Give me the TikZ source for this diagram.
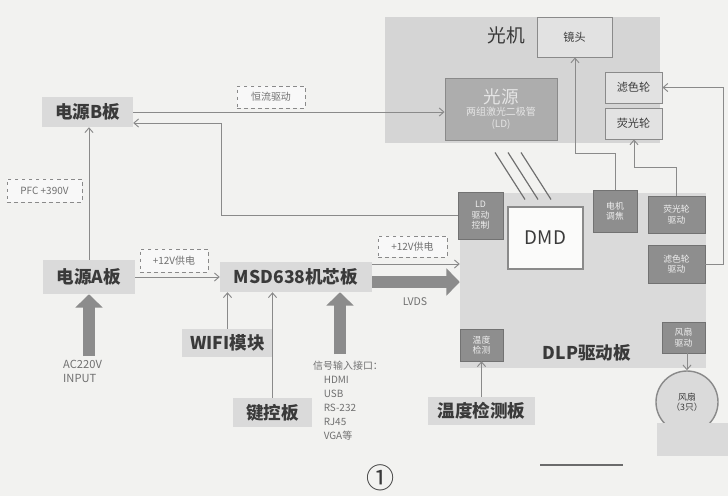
\documentclass[tikz,border=0pt]{standalone}
\usepackage{fontspec}
\setmainfont{Noto Sans CJK SC}
\usetikzlibrary{arrows.meta, calc}
\definecolor{paper}{HTML}{F2F2F0}
\definecolor{ink}{HTML}{3A3A3A}
\definecolor{boardgray}{HTML}{DADADA}
\definecolor{panelgray}{HTML}{D5D5D5}
\definecolor{partgray}{HTML}{E2E2E2}
\definecolor{drvgray}{HTML}{8E8E8E}
\definecolor{srcgray}{HTML}{ADADAD}
\definecolor{linegray}{HTML}{8A8A8A}
\definecolor{fatgray}{HTML}{8C8C8C}
\definecolor{taggray}{HTML}{707070}

\begin{document}
\begin{tikzpicture}[x=0.03cm, y=-0.03cm,
        panel/.style={rectangle, fill=panelgray, inner sep=0pt},
        board/.style={rectangle, fill=boardgray, text=ink, inner sep=0pt, font=\fontsize{15}{17}\selectfont\bfseries},
        part/.style={rectangle, draw=linegray, line width=0.8pt, fill=partgray, text=ink, inner sep=0pt, font=\fontsize{9.5}{11}\selectfont},
        drv/.style={rectangle, draw=drvgray!80!black, fill=drvgray, text=white!88!gray, inner sep=0pt, align=center, font=\fontsize{7.5}{9}\selectfont},
        tag/.style={rectangle, draw=linegray, dashed, fill=white!50!paper, text=taggray, inner sep=0pt, font=\fontsize{8.5}{10}\selectfont},
        note/.style={text=taggray, inner sep=0pt, align=left, font=\fontsize{8.5}{12}\selectfont},
        link/.style={draw=linegray, line width=0.8pt, -{Straight Barb[length=4pt, width=7pt]}},
        fat/.style={draw=fatgray, line width=0.36cm, -{Triangle[length=0.4cm, width=0.8cm]}},
        beam/.style={draw=linegray!80!black, line width=1pt}
    ]
        \fill[paper] (0,0) rectangle (728,496);
        \useasboundingbox (0,0) rectangle (728,496);

        % Optical engine
        \node[panel, minimum width=8.25cm, minimum height=3.78cm] (optic) at (522.5,80) {};
        \node[text=ink, font=\fontsize{16}{18}\selectfont] (opticlabel) at (506,35) {光机};
        \node[part, minimum width=2.25cm, minimum height=1.2cm] (lens) at (574.5,37) {镜头};
        \node[part, minimum width=1.71cm, minimum height=0.93cm] (filter) at (633.5,87.5) {滤色轮};
        \node[part, minimum width=1.71cm, minimum height=0.93cm] (phosphor) at (633.5,123.5) {荧光轮};
        \node[rectangle, draw=linegray, line width=0.8pt, fill=srcgray, text=white!80!gray, inner sep=0pt, align=center,
              minimum width=3.36cm, minimum height=1.86cm, font=\fontsize{8.5}{10}\selectfont] (source) at (501,109)
              {{\fontsize{15}{17}\selectfont 光源}\\两组激光二极管\\(LD)};

        % DLP board
        \node[panel, fill=boardgray, minimum width=7.38cm, minimum height=5.25cm] (dlp) at (583,280.5) {};
        \node[text=ink, font=\fontsize{15}{17}\selectfont\bfseries] (dlplabel) at (587,353) {DLP驱动板};
        \node[drv, minimum width=1.35cm, minimum height=1.41cm] (ldctl) at (480.5,215.5) {LD\\驱动\\控制};
        \node[rectangle, draw=linegray, line width=1.2pt, fill=white!70!paper, text=ink, inner sep=0pt,
              minimum width=2.25cm, minimum height=1.86cm, font=\fontsize{16}{18}\selectfont] (dmd) at (545.5,238) {DMD};
        \node[drv, minimum width=1.32cm, minimum height=1.26cm] (motor) at (615,211) {电机\\调焦};
        \node[drv, minimum width=1.71cm, minimum height=1.11cm] (phdrv) at (676.5,214.5) {荧光轮\\驱动};
        \node[drv, minimum width=1.71cm, minimum height=1.14cm] (fldrv) at (676.5,264) {滤色轮\\驱动};
        \node[drv, minimum width=1.29cm, minimum height=0.93cm] (fandrv) at (683.5,337.5) {风扇\\驱动};
        \node[drv, minimum width=1.29cm, minimum height=0.96cm] (tempdet) at (481.5,345) {温度\\检测};

        % Beams
        \foreach \d in {0,13,26}
            \draw[beam] ($(source.south)+(-6+\d,12)$) -- ++(30,47);

        % Boards
        \node[board, minimum width=2.73cm, minimum height=0.9cm] (pwrB) at (87.5,112) {电源B板};
        \node[board, minimum width=2.76cm, minimum height=1.02cm] (pwrA) at (89,277) {电源A板};
        \node[board, minimum width=4.56cm, minimum height=0.9cm] (msd) at (296,277) {MSD638机芯板};
        \node[board, minimum width=2.73cm, minimum height=0.84cm] (wifi) at (227.5,343) {WIFI模块};
        \node[board, minimum width=2.37cm, minimum height=0.87cm] (keypad) at (272.5,412.5) {键控板};
        \node[board, minimum width=3.21cm, minimum height=0.84cm] (tempboard) at (481.5,411) {温度检测板};

        % Tags
        \node[tag, minimum width=2.04cm, minimum height=0.66cm] (hengliu) at (271,97) {恒流驱动};
        \node[tag, minimum width=2.25cm, minimum height=0.69cm] (pfc) at (44.5,190.5) {PFC +390V};
        \node[tag, minimum width=2.04cm, minimum height=0.69cm] (v12a) at (174,260.5) {+12V供电};
        \node[tag, minimum width=2.07cm, minimum height=0.63cm] (v12b) at (412.5,246.5) {+12V供电};
        \node[note, font=\fontsize{9}{11}\selectfont] (lvds) at (415,302) {LVDS};
        \node[note, anchor=north west, font=\fontsize{9.5}{11.5}\selectfont] (acnote) at (63,360) {AC220V\\INPUT};
        \node[note, anchor=north west] (signote) at (313,361) {信号输入接口：\\\hspace*{9pt}HDMI\\\hspace*{9pt}USB\\\hspace*{9pt}RS-232\\\hspace*{9pt}RJ45\\\hspace*{9pt}VGA等};

        % Fan
        \node[circle, draw=linegray, line width=1.2pt, fill=boardgray, text=ink, inner sep=0pt, align=center,
              minimum size=1.86cm, font=\fontsize{7.5}{9}\selectfont] (fan) at (687,402) {风扇\\（3只）};
        \fill[boardgray] (657,423) rectangle (728,456);

        % Connections
        \draw[link] (pwrB.east) -- (pwrB.east -| source.west);
        \coordinate (ldret) at (221,123);
        \draw[link] (ldctl.west) -| (ldret) -- (ldret -| pwrB.east);
        \draw[link] (pwrA.north) -- (pwrA.north |- pwrB.south);
        \draw[link] (pwrA.east) -- (msd.west);
        \coordinate (msdhi) at ($(msd.east)+(0,-13)$);
        \draw[link] (msdhi) -- (msdhi -| dlp.west);
        \coordinate (msdlo) at ($(msd.east)+(0,5)$);
        \draw[fat] (msdlo) -- (msdlo -| dlp.west);
        \coordinate (acin) at (89,356);
        \draw[fat] (acin) -- (pwrA.south);
        \coordinate (sigin) at (340,354);
        \draw[fat] (sigin) -- (sigin |- msd.south);
        \draw[link] (wifi.north) -- (wifi.north |- msd.south);
        \draw[link] (keypad.north) -- (keypad.north |- msd.south);
        \draw[link] (tempboard.north) -- (tempdet.south);
        \draw[link] (fan.north |- fandrv.south) -- (fan.north);
        \coordinate (lensbend) at (575,153);
        \draw[link] (motor.north) |- (lensbend) -- (lensbend |- lens.south);
        \coordinate (phbend) at (634,167);
        \draw[link] (phdrv.north) |- (phbend) -- (phbend |- phosphor.south);
        \coordinate (flbend) at (723,87.5);
        \draw[link] (fldrv.east) -| (flbend) -- (filter.east);

        \draw[line width=1.5pt, ink!75] (540,465) -- (623,465);
        \node[text=ink, font=\fontsize{24}{26}\selectfont] (fignum) at (381,478) {①};
    \end{tikzpicture}
\end{document}
